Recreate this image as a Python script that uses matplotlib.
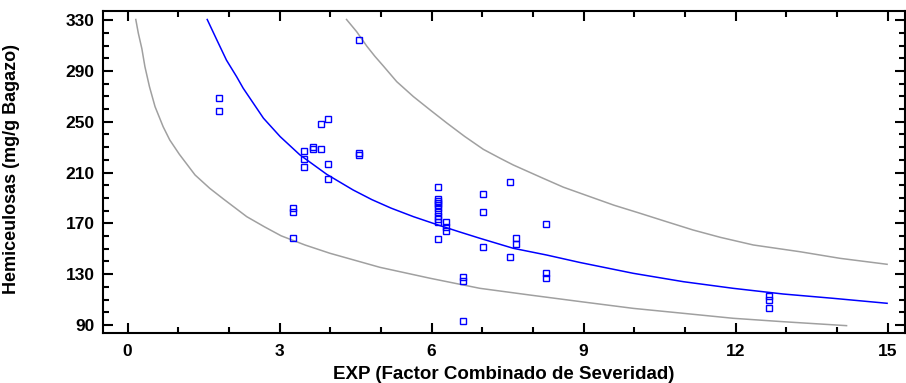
import matplotlib.pyplot as plt
from matplotlib.ticker import MultipleLocator

plt.rcParams['font.family'] = ['Liberation Sans', 'DejaVu Sans']
plt.rcParams['font.weight'] = 'bold'

# datos observados
exp_x = [1.81, 1.81,
         3.27, 3.27, 3.27,
         3.48, 3.48, 3.48,
         3.66, 3.66, 3.81, 3.81,
         3.95, 3.95, 3.95,
         4.57, 4.57, 4.57,
         6.13, 6.13, 6.13, 6.13, 6.13, 6.13, 6.13, 6.13, 6.13, 6.13, 6.13,
         6.29, 6.29, 6.29,
         6.61, 6.61, 6.61,
         7.01, 7.01, 7.01,
         7.54, 7.54,
         7.66, 7.66,
         8.26, 8.26, 8.26,
         12.65, 12.65, 12.65]
hemi = [268.5, 258.5,
        181.9, 179.2, 158.3,
        227.2, 220.7, 214.6,
        230.4, 228.3, 228.8, 248.3,
        252.4, 216.5, 204.7,
        314.4, 225.5, 224.0,
        198.9, 189.2, 187.6, 186.1, 184.5, 182.1, 178.9, 175.8, 173.4, 171.0, 157.7,
        170.9, 167.4, 164.0,
        128.0, 124.6, 92.9,
        192.9, 179.2, 151.7,
        202.8, 143.3,
        158.5, 153.5,
        169.5, 130.7, 126.8,
        113.1, 109.7, 103.1]

# modelo ajustado
fit_x = [1.57, 1.76, 1.95, 2.15, 2.28, 2.48, 2.68, 3.01, 3.40, 3.93, 4.45, 4.82,
         5.20, 5.64, 6.13, 6.55, 6.95, 7.61, 8.27, 8.93, 9.98, 10.97, 11.95,
         12.94, 13.93, 14.99]
fit_y = [330.5, 314.4, 298.5, 285.5, 276.4, 264.6, 252.8, 238.3, 223.9, 208.6,
         196.3, 188.7, 182.0, 175.3, 168.7, 163.3, 158.3, 150.4, 145.1, 139.2,
         130.7, 124.1, 118.9, 114.4, 111.0, 107.1]

# limites de prediccion
sup_x = [4.32, 4.52, 4.72, 4.88, 5.04, 5.31, 5.64, 5.97, 6.30, 6.65, 7.02, 7.35,
         7.61, 8.20, 8.60, 9.12, 9.60, 10.11, 10.60, 11.16, 11.70, 12.35, 13.27,
         14.06, 14.99]
sup_y = [330.5, 320.9, 309.5, 301.5, 294.2, 281.6, 269.8, 259.3, 249.0, 238.5,
         228.3, 221.3, 216.0, 205.5, 198.5, 191.1, 184.3, 178.0, 171.8, 164.8,
         159.0, 153.0, 147.7, 142.5, 137.8]
inf_x = [0.16, 0.21, 0.28, 0.34, 0.43, 0.54, 0.70, 0.83, 1.02, 1.33, 1.62, 1.89,
         2.35, 2.70, 3.03, 3.50, 3.99, 4.98, 5.97, 6.95, 7.94, 8.96, 9.98, 10.97,
         11.95, 12.94, 14.19]
inf_y = [330.5, 319.7, 307.5, 293.4, 277.6, 261.9, 246.1, 235.7, 224.4, 208.1,
         197.6, 189.2, 175.3, 167.3, 160.2, 153.0, 146.5, 135.4, 126.8, 118.9,
         113.6, 108.3, 103.1, 99.2, 95.3, 92.6, 89.5]

fig = plt.figure(figsize=(9.06, 3.83), dpi=100)
ax = fig.add_axes([0.1137, 0.1305, 0.885, 0.8408])

ax.plot(sup_x, sup_y, color='#a0a0a0', lw=1.1)
ax.plot(inf_x, inf_y, color='#a0a0a0', lw=1.1)
ax.plot(fit_x, fit_y, color='#0000ff', lw=1.1)
ax.plot(exp_x, hemi, linestyle='none', marker='s', markersize=4.5,
        markerfacecolor='none', markeredgecolor='#0000ff', markeredgewidth=1.0)

ax.set_xlim(-0.487, 15.34)
ax.set_ylim(83.7, 337.2)
ax.set_xticks([0, 3, 6, 9, 12, 15])
ax.set_yticks([90, 130, 170, 210, 250, 290, 330])
ax.xaxis.set_minor_locator(MultipleLocator(1))
ax.yaxis.set_minor_locator(MultipleLocator(10))
ax.tick_params(which='both', direction='in', top=True, right=True, width=1.5,
               labelsize=12.5, colors='black', pad=6)
ax.tick_params(axis='x', pad=8)
ax.tick_params(which='major', length=7)
ax.tick_params(which='minor', length=4)
for s in ax.spines.values():
    s.set_linewidth(1.5)

ax.set_xlabel('EXP (Factor Combinado de Severidad)', fontsize=13.5, fontweight='bold', labelpad=5)
ax.set_ylabel('Hemiceulosas (mg/g Bagazo)', fontsize=13, fontweight='bold')
ax.yaxis.set_label_coords(-0.104, 0.51)

fig.savefig('out.png', dpi=100)
